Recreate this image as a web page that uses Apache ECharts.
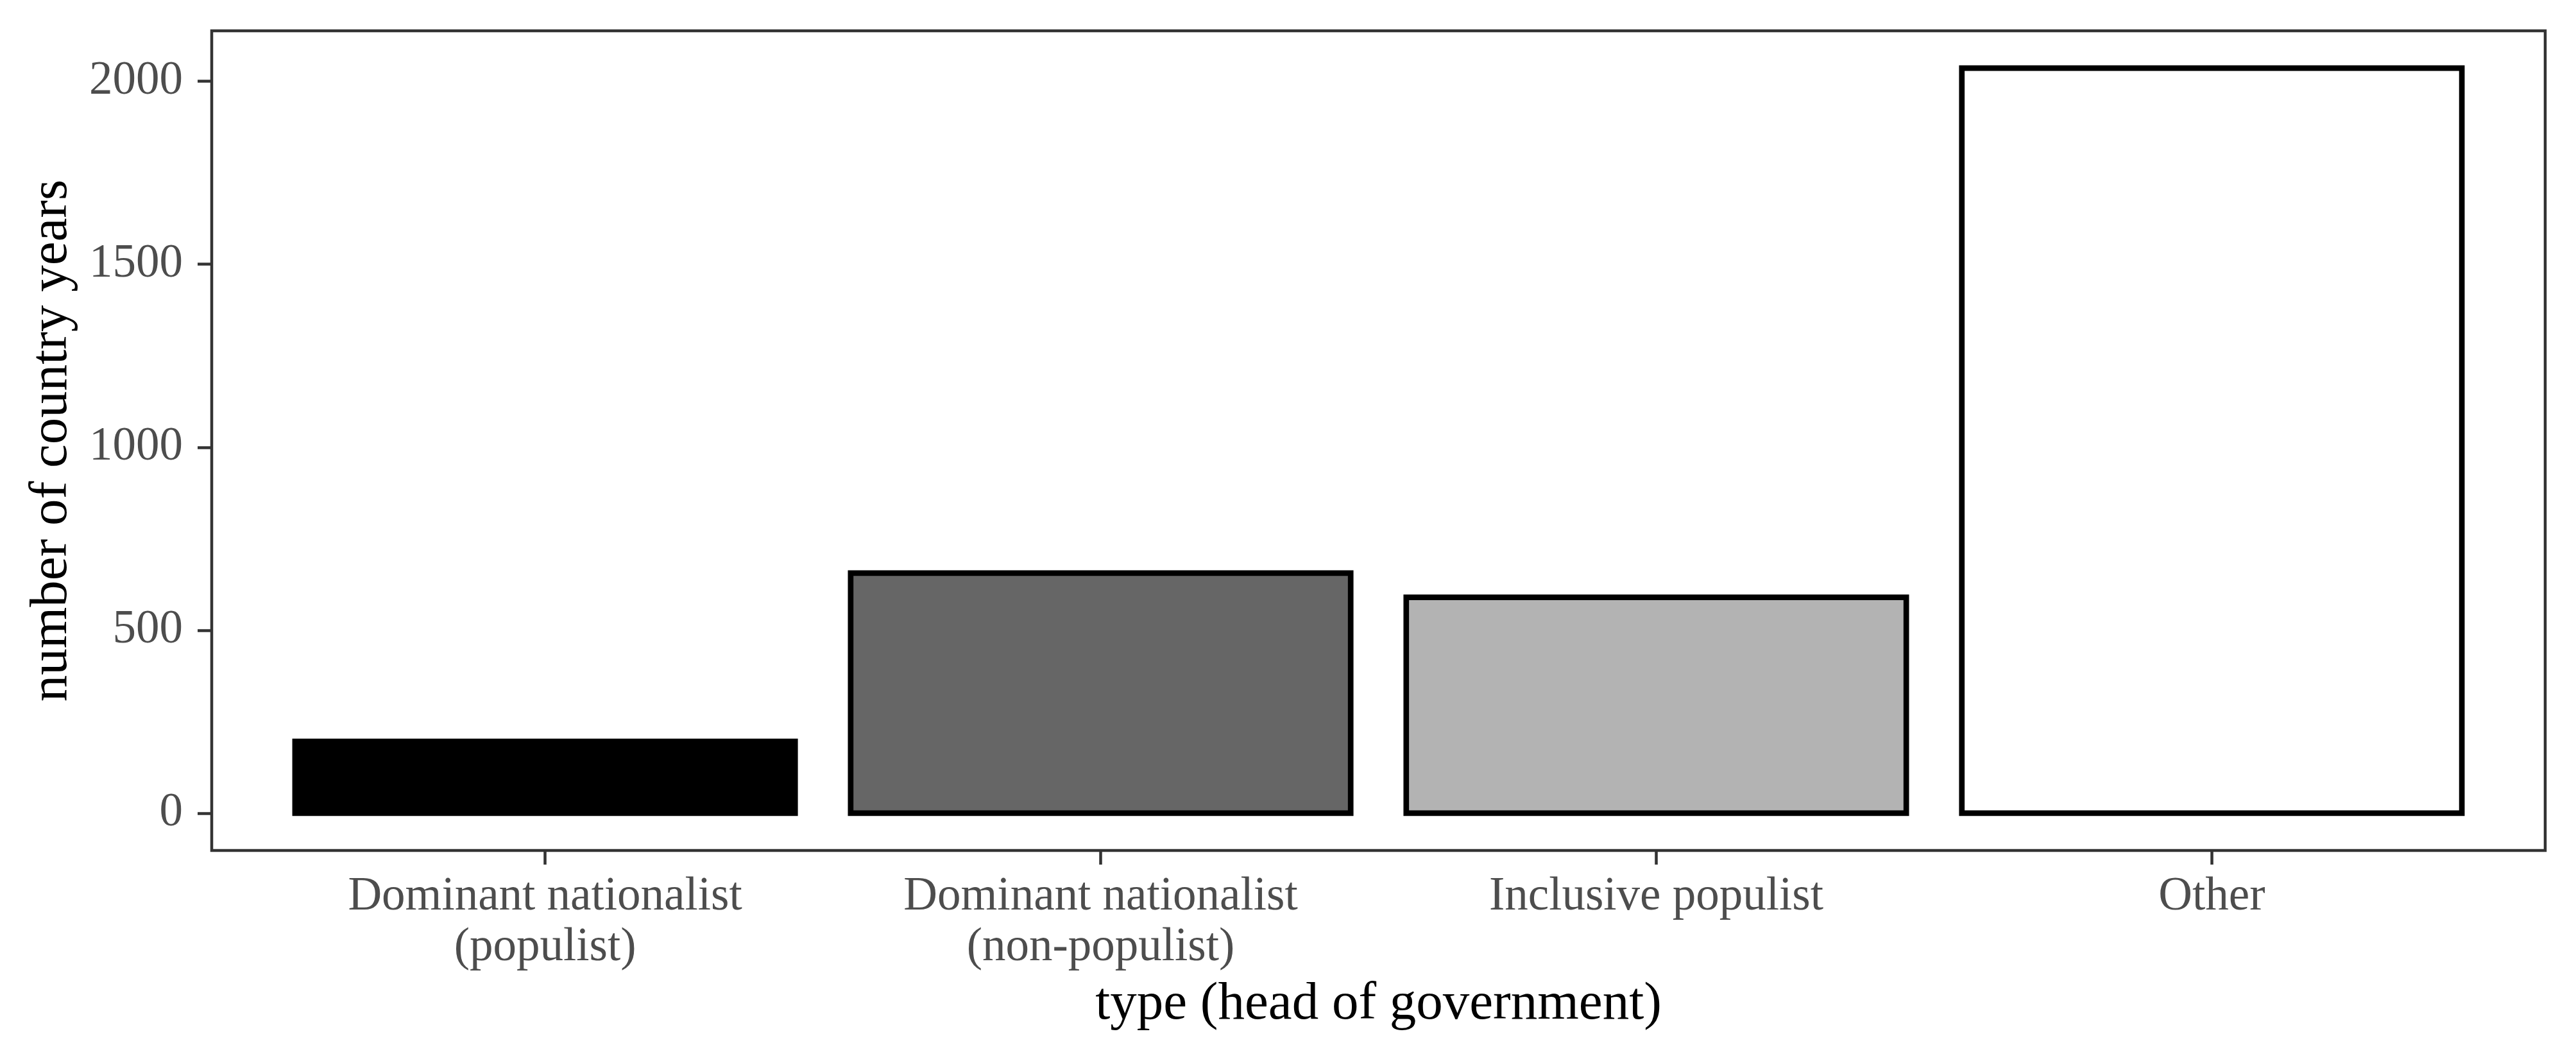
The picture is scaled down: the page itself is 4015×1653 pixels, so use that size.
<!DOCTYPE html>
<html>
<head>
<meta charset="utf-8">
<script src="https://cdn.jsdelivr.net/npm/echarts@6/dist/echarts.min.js"></script>
<style>
html,body{margin:0;padding:0;background:#fff;}
#chart{width:4015px;height:1653px;}
</style>
</head>
<body>
<div id="chart"></div>
<script>
const categories = ["Dominant nationalist\n(populist)", "Dominant nationalist\n(non-populist)", "Inclusive populist", "Other"];
const counts = [196, 656, 590, 2036];
const fills = ["#000000", "#666666", "#B3B3B3", "#FFFFFF"];
const yTicks = [0, 500, 1000, 1500, 2000];
const xPositions = [1, 2, 3, 4];

const maxVal = Math.max(...counts);
const font = "Liberation Serif";
const barHalf = 0.45; // ggplot default bar width 0.9 of category spacing

const chart = echarts.init(document.getElementById('chart'), null, {renderer: 'canvas'});
chart.setOption({
  animation: false,
  backgroundColor: '#ffffff',
  grid: {
    left: 330, right: 48, top: 48, bottom: 328,
    show: true, borderColor: '#333333', borderWidth: 4.5, backgroundColor: '#ffffff'
  },
  xAxis: {
    type: 'value',
    min: 0.4, max: 4.6,
    axisLine: {show: false, onZero: false},
    splitLine: {show: false},
    axisTick: {show: true, customValues: xPositions, length: 22, lineStyle: {color: '#333333', width: 4.5}},
    axisLabel: {
      customValues: xPositions,
      formatter: v => categories[Math.round(v) - 1] || '',
      fontFamily: font, fontSize: 73, lineHeight: 79, color: '#4D4D4D', margin: 33
    },
    name: 'type (head of government)',
    nameLocation: 'middle',
    nameGap: 199,
    nameTextStyle: {fontFamily: font, fontSize: 83, color: '#000000', lineHeight: 83}
  },
  yAxis: {
    type: 'value',
    min: -0.05 * maxVal, max: 1.05 * maxVal,
    axisLine: {show: false, onZero: false},
    splitLine: {show: false},
    axisTick: {show: true, customValues: yTicks, length: 22, lineStyle: {color: '#333333', width: 4.5}},
    axisLabel: {
      customValues: yTicks,
      formatter: v => String(v),
      fontFamily: font, fontSize: 73, color: '#4D4D4D', margin: 45
    },
    name: 'number of country years',
    nameLocation: 'middle',
    nameGap: 207,
    nameRotate: 90,
    nameTextStyle: {fontFamily: font, fontSize: 83, color: '#000000', lineHeight: 83}
  },
  series: [{
    type: 'custom',
    data: counts.map((c, i) => [xPositions[i], c, i]),
    encode: {x: 0, y: 1},
    renderItem: function (params, api) {
      const x = api.value(0), y = api.value(1), idx = api.value(2);
      const p0 = api.coord([x - barHalf, 0]);
      const p1 = api.coord([x + barHalf, y]);
      return {
        type: 'rect',
        shape: {x: p0[0], y: p1[1], width: p1[0] - p0[0], height: p0[1] - p1[1]},
        style: {fill: fills[idx], stroke: '#000000', lineWidth: 8.7}
      };
    }
  }]
});
</script>
</body>
</html>
